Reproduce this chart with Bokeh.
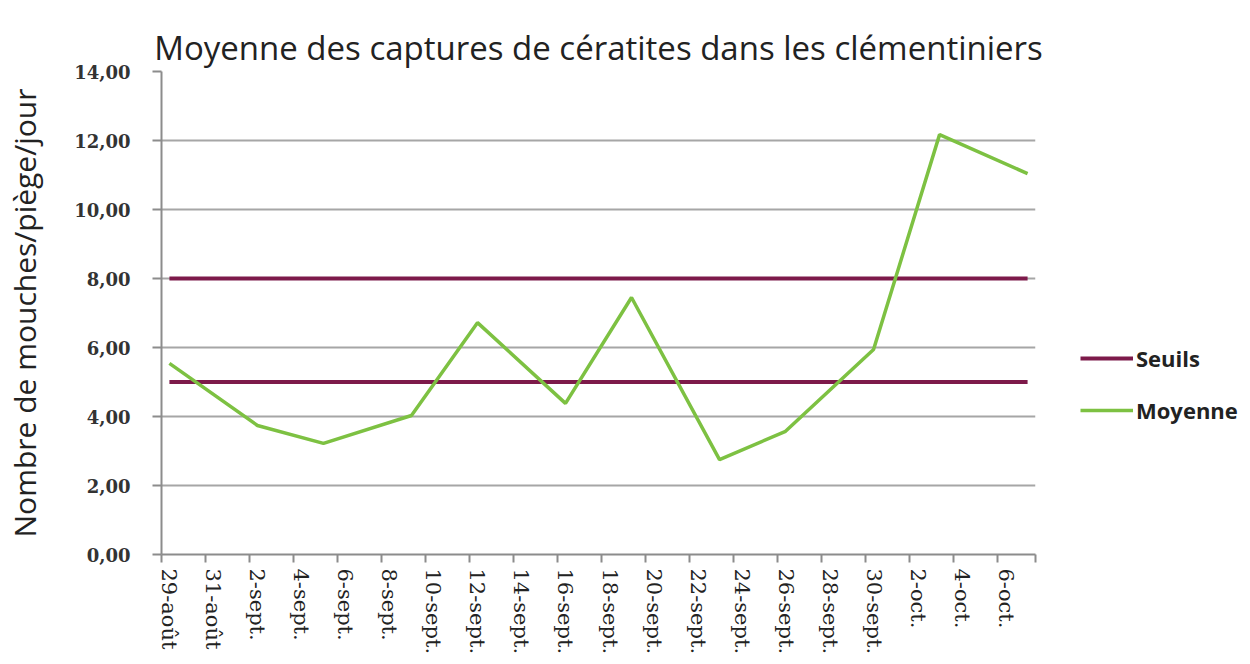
from bokeh.plotting import figure
from bokeh.models import FixedTicker, Legend, LegendItem, Range1d, Title
from bokeh.embed import file_html
from bokeh.resources import INLINE

# ---- data ----
# day offsets counted from 29 August
tick_days = [0, 2, 4, 6, 8, 10, 12, 14, 16, 18, 20, 22, 24, 26, 28, 30, 32, 34, 36, 38]
tick_labels = ["29-août", "31-août", "2-sept.", "4-sept.", "6-sept.", "8-sept.",
               "10-sept.", "12-sept.", "14-sept.", "16-sept.", "18-sept.", "20-sept.",
               "22-sept.", "24-sept.", "26-sept.", "28-sept.", "30-sept.", "2-oct.",
               "4-oct.", "6-oct."]
# sampling dates: 29-août, 2-sept., 5-sept., 9-sept., 12-sept., 16-sept., 19-sept.,
# 23-sept., 26-sept., 30-sept., 3-oct., 7-oct.
moy_days = [0, 4, 7, 11, 14, 18, 21, 25, 28, 32, 35, 39]
moyenne = [5.54, 3.74, 3.22, 4.03, 6.72, 4.38, 7.45, 2.75, 3.57, 5.94, 12.17, 11.04]
seuils = [5.0, 8.0]
y_ticks = [0, 2, 4, 6, 8, 10, 12, 14]

GREEN = "#7dc142"
MAROON = "#7d1a4a"
GRID = "#a6a6a6"

p = figure(frame_width=874, frame_height=483, output_backend="svg", toolbar_location=None,
           x_range=Range1d(-0.36, 39.36), y_range=Range1d(0, 14),
           min_border_left=161, min_border_right=213, min_border_top=71,
           min_border_bottom=102)
p.outline_line_color = None
p.background_fill_color = "white"

# title
t = Title(text="Moyenne des captures de cératites dans les clémentiniers",
          text_font="Open Sans", text_font_size="33px", text_font_style="normal",
          text_color="#222222", align="center", vertical_align="top", standoff=0,
          text_line_height=0.6)
p.add_layout(t, "above")

# grid
p.xgrid.grid_line_color = None
p.ygrid.grid_line_color = GRID
p.ygrid.grid_line_width = 2
p.ygrid.ticker = FixedTicker(ticks=y_ticks)

# y axis
p.yaxis.ticker = FixedTicker(ticks=y_ticks)
p.yaxis.major_label_overrides = {v: f"{v:.2f}".replace(".", ",") for v in y_ticks}
p.yaxis.major_label_text_font = "DejaVu Serif"
p.yaxis.major_label_text_font_style = "bold"
p.yaxis.major_label_text_font_size = "18px"
p.yaxis.major_label_text_color = "#333333"
p.yaxis.major_label_standoff = 22
p.yaxis.axis_line_color = "#8c8c8c"
p.yaxis.axis_line_width = 2
p.yaxis.major_tick_line_color = "#8c8c8c"
p.yaxis.major_tick_line_width = 2
p.yaxis.major_tick_out = 9
p.yaxis.major_tick_in = 0
p.yaxis.minor_tick_line_color = None
p.yaxis.axis_label = "Nombre de mouches/piège/jour"
p.yaxis.axis_label_text_font = "Open Sans"
p.yaxis.axis_label_text_font_style = "normal"
p.yaxis.axis_label_text_font_size = "30px"
p.yaxis.axis_label_text_color = "#222222"
p.yaxis.axis_label_standoff = 26

# x axis
p.xaxis.ticker = FixedTicker(ticks=tick_days,
                             minor_ticks=[d - 0.36 for d in tick_days] + [39.36])
p.xaxis.major_label_overrides = dict(zip(tick_days, tick_labels))
p.xaxis.major_label_orientation = "vertical"
p.xaxis.major_label_text_font = "DejaVu Serif"
p.xaxis.major_label_text_font_size = "21px"
p.xaxis.major_label_text_color = "#222222"
p.xaxis.major_label_standoff = 6
p.xaxis.major_tick_line_color = None
p.xaxis.minor_tick_line_color = "#8c8c8c"
p.xaxis.minor_tick_line_width = 2
p.xaxis.minor_tick_out = 8
p.xaxis.minor_tick_in = 0
p.xaxis.axis_line_color = "#8c8c8c"
p.xaxis.axis_line_width = 2

# series
r_seuils = p.multi_line(xs=[[moy_days[0], moy_days[-1]] for _ in seuils],
                        ys=[[s, s] for s in seuils],
                        line_color=MAROON, line_width=4)
r_moy = p.line(moy_days, moyenne, line_color=GREEN, line_width=3.5)

legend = Legend(items=[LegendItem(label="Seuils", renderers=[r_seuils]),
                       LegendItem(label="Moyenne", renderers=[r_moy])],
                location=(45, 129), orientation="vertical",
                padding=0, margin=0, spacing=22,
                glyph_width=53, glyph_height=20, label_standoff=3,
                label_text_font="Open Sans", label_text_font_size="22px",
                label_text_font_style="bold",
                label_text_color="#222222",
                border_line_color=None, background_fill_alpha=0)
p.add_layout(legend, "right")

open("out.html", "w").write(file_html(p, INLINE))
